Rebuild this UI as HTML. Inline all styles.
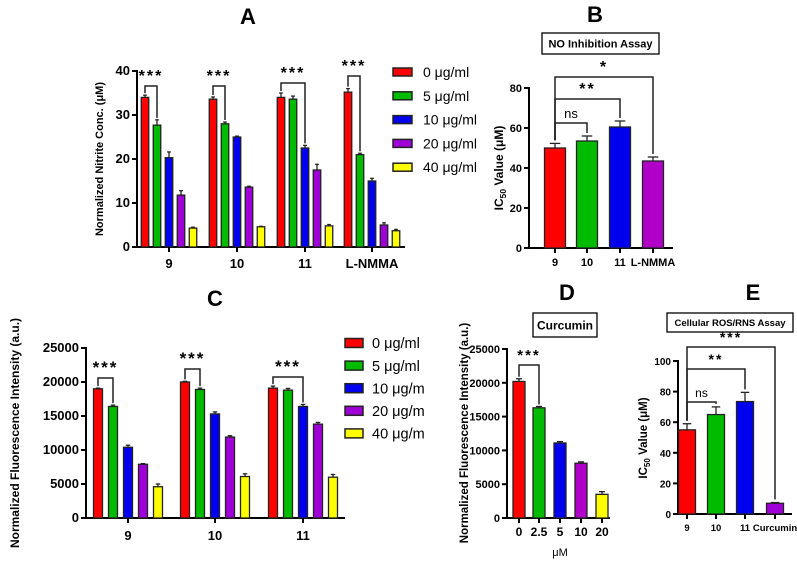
<!DOCTYPE html>
<html><head><meta charset="utf-8"><style>
body{margin:0;background:#fff}
svg{display:block;font-family:"Liberation Sans",Arial,sans-serif}
</style></head><body>
<svg id="fig" width="797" height="566" viewBox="0 0 797 566" xmlns="http://www.w3.org/2000/svg"></svg>
<script>
const colors=['#ff0000','#00bb00','#0000ee','#a000d8','#ffff00'];
// Panel A
const aCats=['9','10','11','L-NMMA'];
const aVals=[[34,27.7,20.3,11.8,4.3],[33.6,28,25,13.6,4.6],[34,33.6,22.5,17.5,4.8],[35.2,21,15,5,3.7]];
const aErr=[[0.5,1.2,1.3,1,0.2],[0.5,0.4,0.2,0.2,0.1],[1,0.7,0.6,1.3,0.3],[0.8,0.3,0.6,0.5,0.3]];
const aTicks=[0,10,20,30,40];
const aLegend=['0 μg/ml','5 μg/ml','10 μg/ml','20 μg/ml','40 μg/ml'];
// Panel B
const bCats=['9','10','11','L-NMMA'];
const bVals=[50,53.5,60.5,43.5];
const bErr=[2.3,2.5,3,2];
const bTicks=[0,20,40,60,80];
// Panel C
const cCats=['9','10','11'];
const cVals=[[19000,16400,10400,7900,4600],[20000,18900,15300,11900,6100],[19100,18800,16400,13800,6000]];
const cErr=[[100,200,300,100,400],[100,200,300,200,400],[300,250,300,250,400]];
const cTicks=[0,5000,10000,15000,20000,25000];
const cLegend=['0 μg/ml','5 μg/ml','10 μg/m','20 μg/m','40 μg/m'];
// Panel D
const dCats=['0','2.5','5','10','20'];
const dVals=[20200,16300,11100,8100,3500];
const dErr=[400,200,200,200,400];
const dTicks=[0,5000,10000,15000,20000,25000];
// Panel E
const eCats=['9','10','11','Curcumin'];
const eVals=[55,65,73.5,7];
const eErr=[4,5,6,0.5];
const eTicks=[0,20,40,60,80,100];
const eColors=['#ff0000','#00bb00','#0000ee','#a000d8'];
const dColors=['#ff0000','#00bb00','#0000ee','#b000c8','#ffff00'];
const bColors=['#ff0000','#00bb00','#0000ee','#b000c8'];

const svg=document.getElementById('fig');
const NS='http://www.w3.org/2000/svg';
function mk(tag,at,parent,txt){const e=document.createElementNS(NS,tag);for(const k in at)e.setAttribute(k,at[k]);if(txt!==undefined)e.textContent=txt;(parent||svg).appendChild(e);return e;}
function group(name){const g=mk('g',{});return g;}

function axes(g,x0,x1,y0,y1,ticks,max,fs){
  const ys=v=>y0-(v/max)*(y0-y1);
  mk('line',{x1:x0,y1:y0+1,x2:x0,y2:y1-1,stroke:'#000','stroke-width':2},g);
  mk('line',{x1:x0-1,y1:y0,x2:x1,y2:y0,stroke:'#000','stroke-width':2},g);
  ticks.forEach(t=>{const y=ys(t);mk('line',{x1:x0-5,y1:y,x2:x0,y2:y,stroke:'#000','stroke-width':2},g);
    const tx=mk('text',{x:x0-7,y:y+4,'text-anchor':'end','font-size':fs,'font-weight':'bold'},g,t);
    });
  return ys;
}
function bar(g,cx,w,v,e,ys,col,name){
  const r=mk('rect',{x:cx-w/2,y:ys(v),width:w,height:ys(0)-ys(v),fill:col,stroke:'#222','stroke-width':1.3},g);
  
  const ye=ys(v+e);
  mk('line',{x1:cx,y1:ys(v),x2:cx,y2:ye,stroke:'#222','stroke-width':1.3},g);
  mk('line',{x1:cx-w/4,y1:ye,x2:cx+w/4,y2:ye,stroke:'#222','stroke-width':1.3},g);
}
function bracket(g,xa,xb,yTop,ya,yb,label,fs){
  mk('path',{d:`M${xa},${ya}V${yTop}H${xb}V${yb}`,fill:'none',stroke:'#222','stroke-width':1.5},g);
  const t=mk('text',{x:(xa+xb)/2,y:yTop-5,'text-anchor':'middle','font-size':fs,'font-weight':label==='ns'?'normal':'bold','letter-spacing':label==='ns'?0:2},g,label);
  
}
function title(x,y,s){const t=mk('text',{x:x,y:y,'text-anchor':'middle','font-size':22,'font-weight':'bold'},svg,s);
  }
function ylabel(g,x,y,s,fs,sub){const t=mk('text',{x:0,y:0,transform:`translate(${x},${y}) rotate(-90)`,'text-anchor':'middle','font-size':fs,'font-weight':'bold'},g);
  
  if(sub){mk('tspan',{},t,'IC');mk('tspan',{'font-size':fs*0.7,dy:3},t,'50');mk('tspan',{dy:-3},t,' Value (μM)');}else t.textContent=s;}
function xlabels(g,xs,cats,y,fs){cats.forEach((c,i)=>{const t=mk('text',{x:xs[i],y:y,'text-anchor':'middle','font-size':fs,'font-weight':'bold'},g,c);
  });}
function legend(g,x,y0,dy,items,fs,sw,sh,tx){items.forEach((s,i)=>{const y=y0+i*dy;
  const r=mk('rect',{x:x,y:y-sh/2,width:sw,height:sh,fill:colors[i],stroke:'#222','stroke-width':1.5},g);
  
  const t=mk('text',{x:tx,y:y+fs*0.36,'font-size':fs},g,s);});}
function box(g,x,y,w,h,s,fs){mk('rect',{x:x,y:y,width:w,height:h,fill:'#fff',stroke:'#000','stroke-width':1.3},g);
  const t=mk('text',{x:x+w/2,y:y+h/2+fs*0.36,'text-anchor':'middle','font-size':fs,'font-weight':'bold'},g,s);
  }

// ---- A
title(248,24,'A');
{const g=group('panel-a-chart');const ys=axes(g,137,405,247,71,aTicks,40,13);
 const cx=[169,237,305,372];
 aCats.forEach((c,i)=>aVals[i].forEach((v,j)=>bar(g,cx[i]+(j-2)*12,7.5,v,aErr[i][j],ys,colors[j],'bar-a-'+c+'-'+j)));
 cx.forEach(x=>mk('line',{x1:x,y1:247,x2:x,y2:252,stroke:'#000','stroke-width':2},g));
 xlabels(g,cx,aCats,268,13);
 ylabel(g,103,159,'Normalized Nitrite Conc. (μM)',11);
 const br=[[0,1,86],[0,1,86],[0,2,83],[0,1,76]];
 br.forEach((b,i)=>{const xa=cx[i]-24,xb=cx[i]+(b[1]-2)*12;bracket(g,xa,xb,b[2],ys(aVals[i][0]+aErr[i][0])-2,ys(aVals[i][b[1]]+aErr[i][b[1]])-2,'***',16);});
 legend(group('legend-a'),393,72,23.8,aLegend,14,19,8,423);}

// ---- B
title(595,22,'B');
{const g=group('panel-b-chart');box(g,542,33,117,21,'NO Inhibition Assay',11);
 const ys=axes(g,529,673,248,88,bTicks,80,11);
 const cx=[555,587,620,653];
 bCats.forEach((c,i)=>bar(g,cx[i],21,bVals[i],bErr[i],ys,bColors[i],'bar-b-'+c));
 cx.forEach(x=>mk('line',{x1:x,y1:248,x2:x,y2:253,stroke:'#000','stroke-width':2},g));
 xlabels(g,cx,bCats,266,11);
 ylabel(g,503,168,'',12,true);
 [[1,123,'ns'],[2,99,'**'],[3,77,'*']].forEach(b=>bracket(g,cx[0],cx[b[0]],b[1],ys(bVals[0]+bErr[0])-3,ys(bVals[b[0]]+bErr[b[0]])-3,b[2],b[2]==='ns'?13:16));}

// ---- C
title(215,306,'C');
{const g=group('panel-c-chart');const ys=axes(g,86,345,518,348,cTicks,25000,13);
 const cx=[128,215,303];
 cCats.forEach((c,i)=>cVals[i].forEach((v,j)=>bar(g,cx[i]+(j-2)*15,9,v,cErr[i][j],ys,colors[j],'bar-c-'+c+'-'+j)));
 cx.forEach(x=>mk('line',{x1:x,y1:518,x2:x,y2:523,stroke:'#000','stroke-width':2},g));
 xlabels(g,cx,cCats,540,13);
 ylabel(g,19,433,'Normalized Fluorescence Intensity (a.u.)',12);
 [[0,1,378],[0,1,369],[0,2,377]].forEach((b,i)=>bracket(g,cx[i]-30,cx[i]+(b[1]-2)*15,b[2],ys(cVals[i][0]+cErr[i][0])-2,ys(cVals[i][b[1]]+cErr[i][b[1]])-2,'***',17));
 legend(group('legend-c'),345,343,22.6,cLegend,14.5,18,9,372);}

// ---- D
title(567,300,'D');
{const g=group('panel-d-chart');box(g,533,313,64,24,'Curcumin',12);
 const ys=axes(g,507,610,518,349,dTicks,25000,11);
 const cx=[519,539,560,581,602];
 dCats.forEach((c,i)=>bar(g,cx[i],12,dVals[i],dErr[i],ys,dColors[i],'bar-d-'+c));
 cx.forEach(x=>mk('line',{x1:x,y1:518,x2:x,y2:523,stroke:'#000','stroke-width':2},g));
 xlabels(g,cx,dCats,536,12);
 const u=mk('text',{x:560,y:556,'text-anchor':'middle','font-size':11},g,'μM');
 ylabel(g,468,433,'Normalized Fluorescence Intensity (a.u.)',11.5);
 bracket(g,cx[0],cx[1],365,ys(dVals[0]+dErr[0])-2,ys(dVals[1]+dErr[1])-2,'***',15);}

// ---- E
title(753,300,'E');
{const g=group('panel-e-chart');box(g,667,313,126,19,'Cellular ROS/RNS Assay',9.5);
 const ys=axes(g,678,792,514,361,eTicks,100,10);
 const cx=[687,716,745,775];
 eCats.forEach((c,i)=>bar(g,cx[i],17,eVals[i],eErr[i],ys,eColors[i],'bar-e-'+c));
 cx.forEach(x=>mk('line',{x1:x,y1:514,x2:x,y2:519,stroke:'#000','stroke-width':2},g));
 xlabels(g,cx,eCats,531,9.5);
 ylabel(g,647,438,'',11.5,true);
 [[1,402,'ns'],[2,369,'**'],[3,347,'***']].forEach(b=>bracket(g,cx[0],cx[b[0]],b[1],ys(eVals[0]+eErr[0])-3,ys(eVals[b[0]]+eErr[b[0]])-3,b[2],b[2]==='ns'?12:14));}
</script>
</body></html>
